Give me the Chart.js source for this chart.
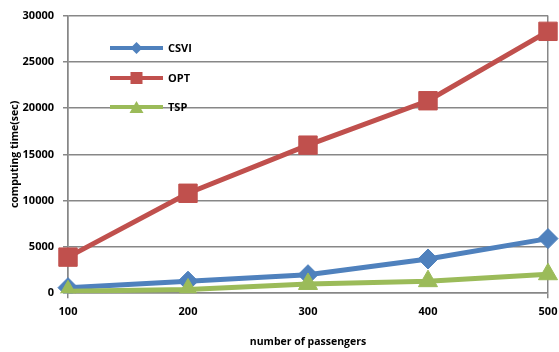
<!DOCTYPE html>
<html>
<head>
<meta charset="utf-8">
<script src="https://cdn.jsdelivr.net/npm/chart.js@4.4.1/dist/chart.umd.min.js"></script>
<style>
  html, body { margin: 0; padding: 0; background: #fff; }
  #wrap { width: 559px; height: 352px; position: relative; }
</style>
</head>
<body>
<div id="wrap"><canvas id="c"></canvas></div>
<script>
// Number of passengers on the x axis
const passengers = ['100', '200', '300', '400', '500'];
// Computing time in seconds per method
const csvi = [600, 1300, 2000, 3700, 5900];
const opt = [3900, 10800, 16000, 20800, 28300];
const tsp = [200, 400, 1000, 1300, 2050];
// Y axis range
const yTicks = [0, 5000, 10000, 15000, 20000, 25000, 30000];

const BLUE = '#4F81BD', RED = '#C0504D', GREEN = '#9BBB59', GRID = '#878787';
const FONT = '"Open Sans", "Liberation Sans", sans-serif';

// Legend drawn inside the plot, upper left
const insideLegend = {
  id: 'insideLegend',
  afterDatasetsDraw(chart) {
    const ctx = chart.ctx;
    const items = [
      { label: 'CSVI', color: BLUE, shape: 'diamond', y: 48 },
      { label: 'OPT', color: RED, shape: 'square', y: 78 },
      { label: 'TSP', color: GREEN, shape: 'triangle', y: 107 }
    ];
    ctx.save();
    items.forEach(it => {
      const x0 = 110, x1 = 163, cx = (x0 + x1) / 2;
      ctx.strokeStyle = it.color;
      ctx.lineWidth = 4;
      ctx.beginPath(); ctx.moveTo(x0, it.y); ctx.lineTo(x1, it.y); ctx.stroke();
      ctx.fillStyle = it.color;
      ctx.beginPath();
      if (it.shape === 'diamond') {
        ctx.moveTo(cx, it.y - 6); ctx.lineTo(cx + 6, it.y); ctx.lineTo(cx, it.y + 6); ctx.lineTo(cx - 6, it.y);
      } else if (it.shape === 'square') {
        ctx.rect(cx - 6, it.y - 6, 12, 12);
      } else {
        ctx.moveTo(cx, it.y - 6); ctx.lineTo(cx + 7, it.y + 6); ctx.lineTo(cx - 7, it.y + 6);
      }
      ctx.closePath(); ctx.fill();
      ctx.fillStyle = '#000';
      ctx.font = 'bold 11px ' + FONT;
      ctx.textBaseline = 'middle';
      ctx.fillText(it.label, x1 + 5, it.y + 1);
    });
    ctx.restore();
  }
};

const mk = (label, data, color, style, radius, order) => ({
  label, data, order,
  borderColor: color, backgroundColor: color,
  borderWidth: 5, tension: 0,
  pointStyle: style, pointRadius: radius, pointHoverRadius: radius,
  pointBackgroundColor: color, pointBorderColor: color, pointBorderWidth: 1
});

new Chart(document.getElementById('c'), {
  type: 'line',
  data: {
    labels: passengers,
    datasets: [
      mk('CSVI', csvi, BLUE, 'rectRot', 10, 1),
      mk('OPT', opt, RED, 'rect', 13, 2),
      mk('TSP', tsp, GREEN, 'triangle', 11, 0)
    ]
  },
  plugins: [insideLegend],
  options: {
    responsive: true,
    maintainAspectRatio: false,
    animation: false,
    layout: { autoPadding: false, padding: { left: 6, right: 11, top: 14, bottom: 4 } },
    plugins: { legend: { display: false }, tooltip: { enabled: false } },
    scales: {
      x: {
        offset: false,
        // let the last label run past the plot edge
        afterFit: s => { s.paddingRight = 0; s.paddingLeft = 0; },
        grid: {
          color: c => (c.index === 0 || c.index === passengers.length - 1) ? GRID : 'rgba(0,0,0,0)',
          lineWidth: 1.5, tickLength: 5
        },
        border: { color: GRID, width: 1.5 },
        ticks: { color: '#000', font: { family: FONT, weight: 'bold', size: 11 }, padding: 7 },
        title: { display: true, text: 'number of passengers', color: '#000',
                 font: { family: FONT, weight: 'bold', size: 10.5 }, padding: { top: 10, bottom: 0 } }
      },
      y: {
        min: 0, max: 30000,
        afterBuildTicks: s => { s.ticks = yTicks.map(v => ({ value: v })); },
        afterFit: s => { s.width = 62; },
        grid: { color: GRID, lineWidth: 1.5, tickLength: 5 },
        border: { color: GRID, width: 1.5 },
        ticks: { color: '#000', font: { family: FONT, weight: 'bold', size: 11 }, padding: 9,
                 callback: v => String(v) },
        title: { display: true, text: 'computing time(sec)', color: '#000',
                 font: { family: FONT, weight: 'bold', size: 10.5 }, padding: { top: 3, bottom: 0 } }
      }
    }
  }
});
</script>
</body>
</html>
